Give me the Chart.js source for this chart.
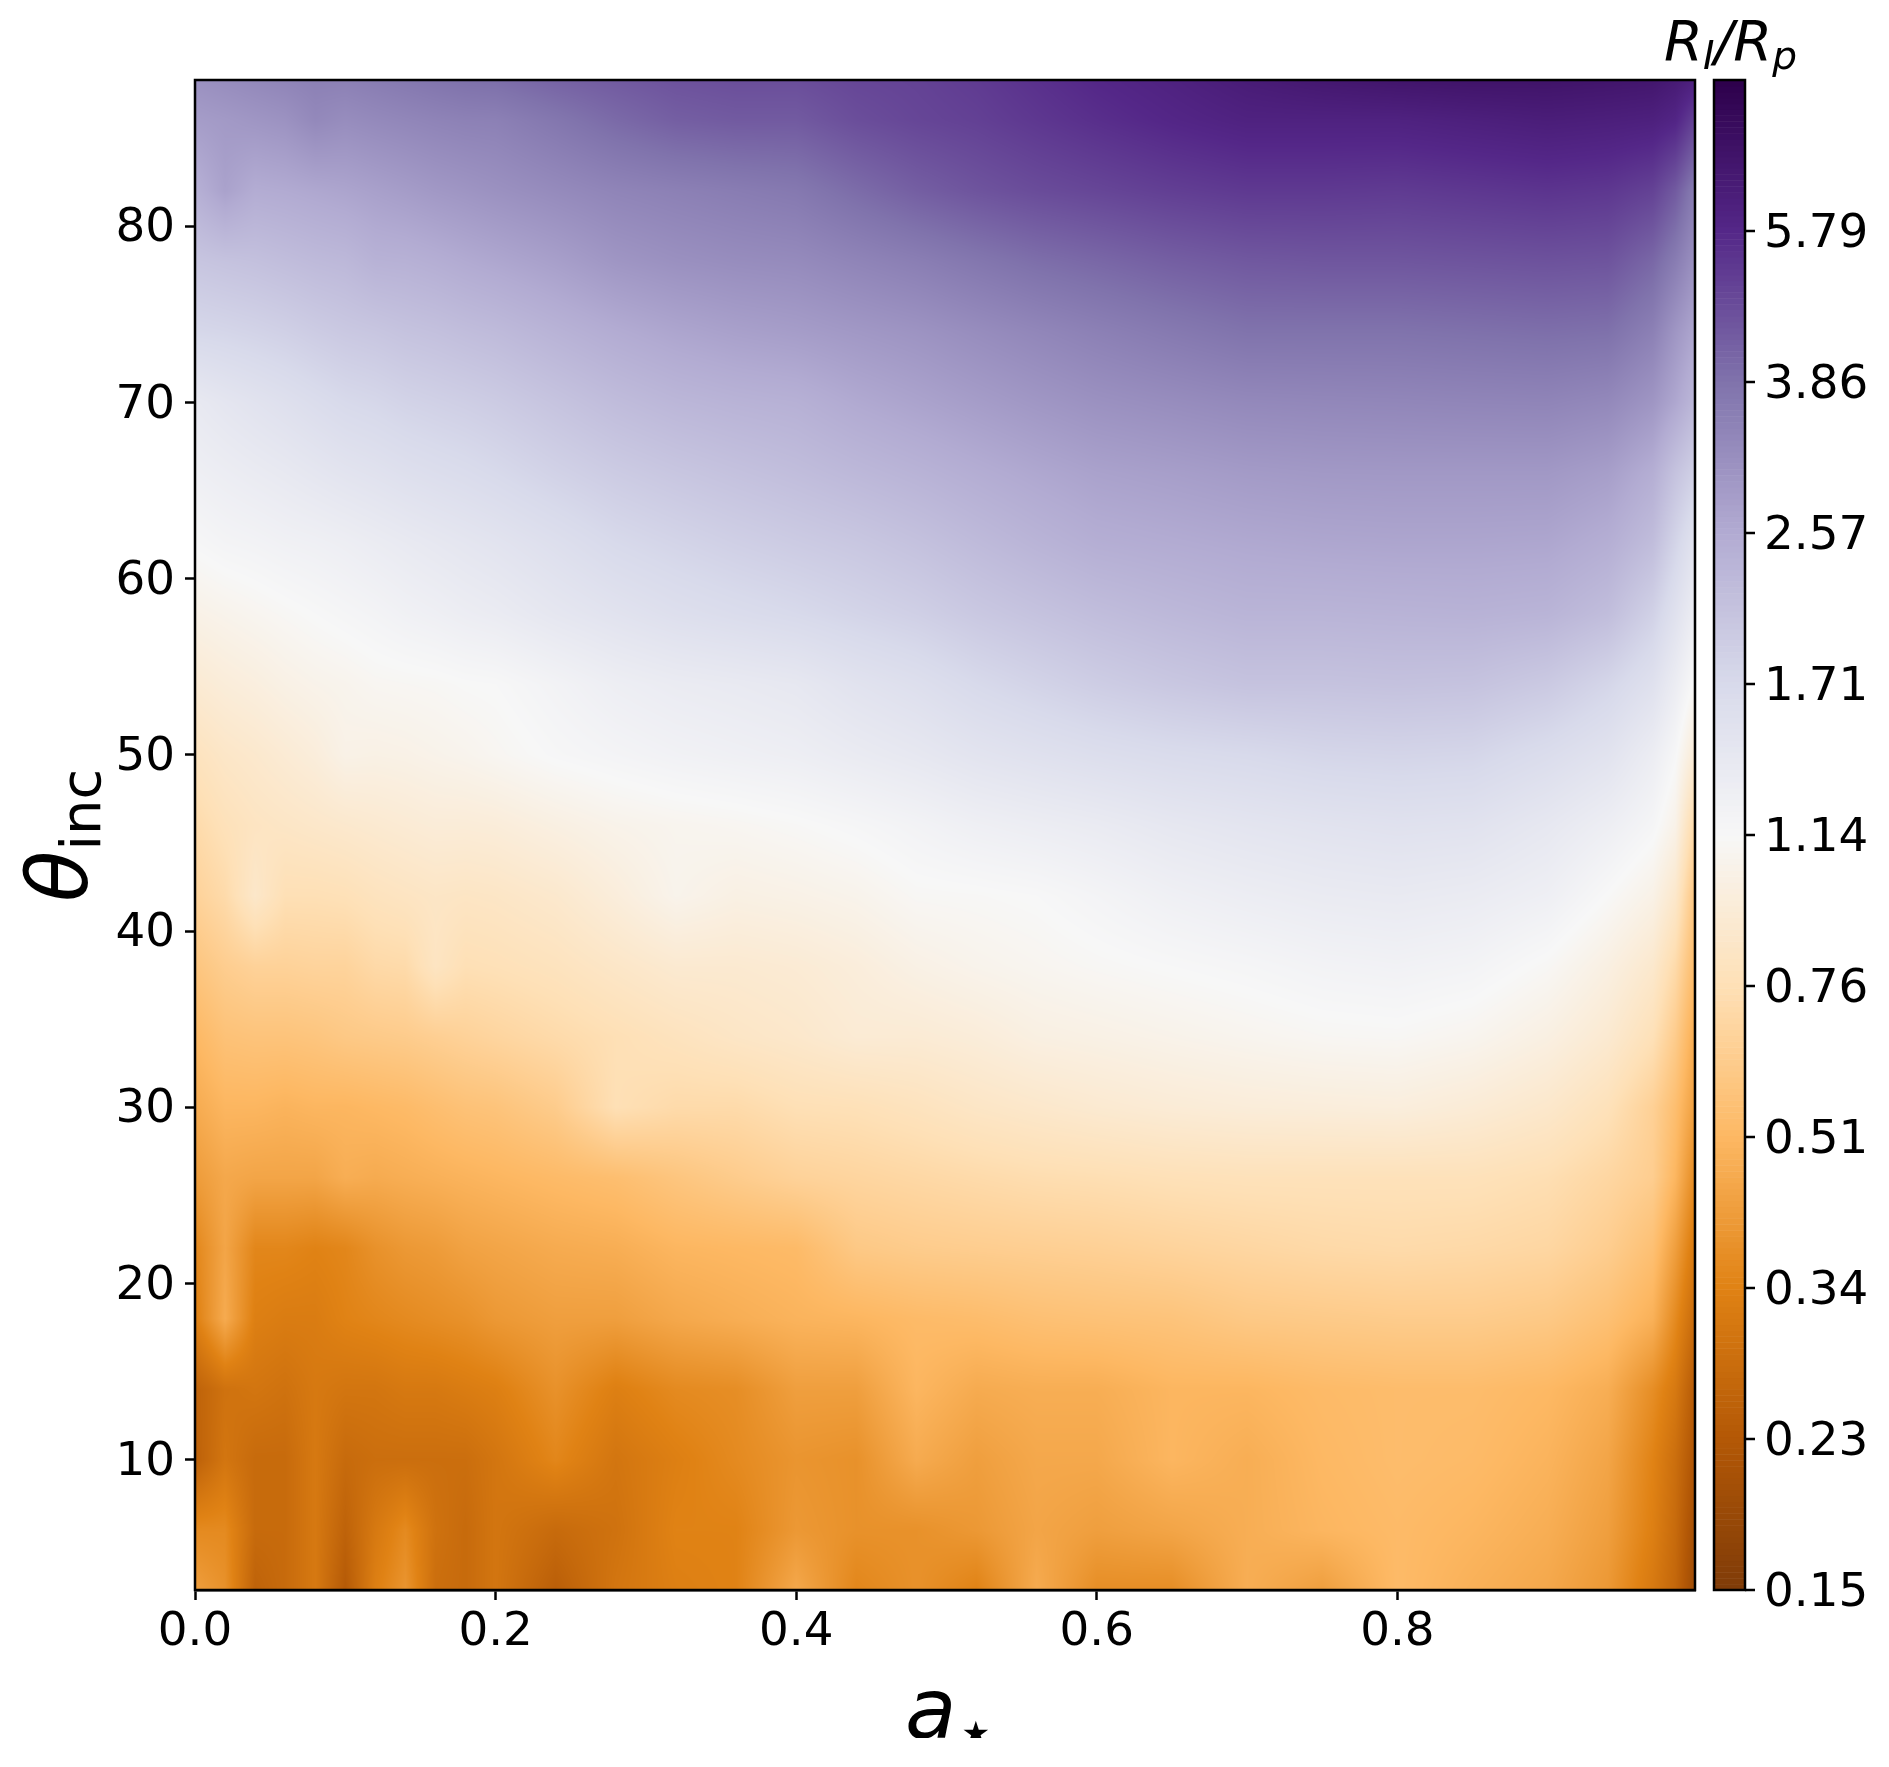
<!DOCTYPE html>
<html lang="en">
  <head>
    <meta charset="utf-8" />
    <title>R_I/R_p map</title>
    <script src="https://cdn.jsdelivr.net/npm/chart.js"></script>
    <style>
      html, body { margin: 0; background: #fff; }
      canvas { display: block; }
    </style>
  </head>
  <body>
    <canvas id="ratioMap" width="1889" height="1738"></canvas>
    <script>
      // values
      const aValues = [0, .02, .04, .06, .08, .10, .12, .14, .16, .18, .20, .24, .28, .32, .36, .40, .44, .48, .52, .56, .60, .65, .70, .75, .80, .85, .90, .94, .97, .985, .998];
      const thetaValues = [2.6, 6, 10, 14, 18, 22, 26, 30, 34, 38, 42, 46, 50, 54, 58, 62, 66, 70, 74, 78, 82, 86, 88.3];
      const xTicks = [0, .2, .4, .6, .8];
      const yTicks = [10, 20, 30, 40, 50, 60, 70, 80];
      const barTicks = [.1505, .2258, .3386, .508, .762, 1.143, 1.714, 2.572, 3.857, 5.786];
      const barLabels = ['0.15', '0.23', '0.34', '0.51', '0.76', '1.14', '1.71', '2.57', '3.86', '5.79'];
      const barMax = 8.68;
      const puOr = ['#7f3b08', '#b35806', '#e08214', '#fdb863', '#fee0b6', '#f7f7f7', '#d8daeb', '#b2abd2', '#8073ac', '#542788', '#2d004b'];

      // one row per theta, one column per a
      const ratioGrid = [
        [.42,.38,.25,.27,.31,.23,.33,.39,.28,.27,.30,.24,.30,.33,.34,.45,.35,.38,.34,.46,.37,.37,.47,.42,.52,.48,.45,.40,.31,.26,.19],
        [.36,.36,.27,.27,.31,.25,.31,.36,.29,.27,.30,.27,.29,.34,.34,.40,.38,.38,.40,.44,.42,.44,.47,.50,.52,.50,.47,.42,.33,.27,.20],
        [.245,.30,.27,.27,.31,.27,.28,.28,.28,.28,.30,.35,.30,.33,.36,.39,.38,.46,.42,.45,.45,.50,.47,.51,.53,.52,.49,.44,.34,.28,.215],
        [.25,.29,.30,.29,.31,.30,.30,.31,.31,.32,.33,.38,.33,.36,.37,.42,.42,.50,.46,.47,.47,.50,.50,.52,.53,.53,.51,.47,.37,.31,.23],
        [.33,.46,.33,.32,.32,.34,.35,.36,.37,.38,.40,.42,.42,.45,.47,.49,.50,.52,.53,.55,.56,.57,.60,.61,.62,.62,.60,.55,.48,.36,.27],
        [.35,.44,.35,.35,.34,.35,.38,.40,.41,.43,.44,.46,.47,.50,.51,.52,.60,.62,.63,.64,.65,.67,.69,.71,.72,.71,.69,.63,.55,.42,.31],
        [.41,.45,.44,.44,.44,.47,.46,.47,.48,.49,.50,.52,.54,.58,.62,.66,.68,.70,.72,.74,.75,.77,.78,.78,.78,.78,.75,.69,.63,.50,.36],
        [.46,.50,.50,.49,.50,.50,.51,.52,.54,.56,.57,.62,.76,.72,.72,.76,.77,.80,.84,.87,.90,.93,.95,.96,.97,.93,.87,.78,.65,.54,.42],
        [.51,.56,.57,.57,.58,.60,.61,.62,.64,.66,.68,.72,.76,.80,.84,.87,.92,.92,.95,1.00,1.02,1.05,1.08,1.11,1.12,1.08,1.00,.90,.77,.62,.46],
        [.58,.63,.66,.66,.67,.67,.71,.72,.82,.76,.77,.80,.85,.90,.90,.92,.96,1.02,1.06,1.09,1.12,1.15,1.18,1.22,1.24,1.21,1.12,1.00,.88,.72,.52],
        [.66,.72,.86,.76,.76,.77,.80,.82,.84,.83,.84,.88,.96,1.06,1.01,1.03,1.06,1.12,1.13,1.15,1.20,1.27,1.32,1.36,1.38,1.35,1.28,1.14,1.03,.87,.58],
        [.72,.78,.82,.84,.86,.88,.90,.92,.94,.94,.95,1.00,1.05,1.08,1.10,1.13,1.17,1.22,1.28,1.32,1.36,1.43,1.48,1.52,1.55,1.53,1.42,1.30,1.18,1.04,.70],
        [.80,.85,.88,.92,.96,1.03,1.02,1.03,1.05,1.07,1.10,1.16,1.20,1.24,1.27,1.30,1.36,1.42,1.50,1.56,1.62,1.68,1.72,1.78,1.80,1.78,1.65,1.52,1.32,1.16,.92],
        [.91,.95,.98,1.02,1.05,1.07,1.10,1.11,1.12,1.14,1.15,1.22,1.30,1.35,1.38,1.42,1.52,1.60,1.72,1.82,1.92,2.02,2.10,2.10,2.12,2.10,1.98,1.78,1.56,1.33,1.12],
        [1.03,1.06,1.09,1.12,1.15,1.18,1.21,1.25,1.28,1.32,1.35,1.44,1.52,1.60,1.66,1.72,1.80,1.88,2.00,2.10,2.20,2.30,2.38,2.38,2.40,2.42,2.38,2.20,1.85,1.55,1.30],
        [1.16,1.20,1.22,1.25,1.27,1.30,1.34,1.38,1.42,1.46,1.50,1.60,1.72,1.80,1.88,1.95,2.02,2.12,2.25,2.38,2.50,2.56,2.62,2.66,2.68,2.68,2.66,2.50,2.20,1.80,1.50],
        [1.28,1.32,1.36,1.40,1.45,1.50,1.54,1.59,1.63,1.67,1.72,1.84,1.95,2.04,2.12,2.20,2.30,2.40,2.52,2.64,2.75,2.82,2.90,2.94,2.95,2.95,2.95,2.82,2.50,2.10,1.85],
        [1.39,1.46,1.52,1.58,1.65,1.72,1.76,1.82,1.86,1.90,1.95,2.08,2.22,2.33,2.40,2.45,2.60,2.72,2.85,2.98,3.10,3.20,3.30,3.33,3.35,3.38,3.40,3.30,3.00,2.65,2.30],
        [1.75,1.78,1.82,1.87,1.94,2.00,2.04,2.10,2.14,2.20,2.25,2.40,2.55,2.68,2.78,2.85,2.95,3.05,3.20,3.35,3.50,3.68,3.85,3.85,3.85,3.90,3.95,3.90,3.50,3.00,2.65],
        [2.05,2.10,2.14,2.20,2.26,2.30,2.42,2.44,2.50,2.58,2.65,2.80,3.00,3.12,3.20,3.25,3.40,3.55,3.75,3.95,4.10,4.30,4.45,4.50,4.50,4.55,4.60,4.55,4.10,3.60,3.10],
        [2.45,2.75,2.54,2.58,2.64,2.70,2.78,2.86,2.95,3.02,3.10,3.25,3.40,3.50,3.60,3.70,4.00,4.30,4.55,4.75,4.90,5.10,5.25,5.25,5.20,5.30,5.40,5.30,5.00,4.40,3.60],
        [2.85,2.92,3.00,3.08,3.30,3.20,3.28,3.35,3.42,3.48,3.50,3.75,4.05,4.30,4.40,4.40,4.70,4.90,5.05,5.30,5.55,5.85,6.10,6.10,6.10,6.25,6.40,6.30,6.20,5.90,5.00],
        [3.10,3.20,3.30,3.40,3.50,3.50,3.60,3.70,3.80,3.90,3.95,4.20,4.40,4.60,4.70,4.70,4.90,5.00,5.20,5.50,5.80,6.10,6.50,6.80,7.00,7.10,7.10,7.00,6.90,6.60,6.20]
      ];

      const INK = '#000';
      const TICK_FONT = { family: '"DejaVu Sans"', size: 46.8 };
      const BAR_LEFT = 1714;
      const BAR_RIGHT = 1745;

      const stopRgb = puOr.map((hex) => [1, 3, 5].map((i) => parseInt(hex.slice(i, i + 2), 16)));
      const logMin = Math.log(barTicks[0]);
      const logSpan = Math.log(barMax) - logMin;

      function normOf(value) {
        return (Math.log(value) - logMin) / logSpan;
      }

      function rgbOf(t) {
        const pos = Math.min(Math.max(t, 0), 1) * (stopRgb.length - 1);
        const i = Math.min(Math.floor(pos), stopRgb.length - 2);
        const f = pos - i;
        return stopRgb[i].map((c, k) => c + (stopRgb[i + 1][k] - c) * f);
      }

      // cell index and weight for a value on a sorted axis
      function locate(axis, v) {
        let i = 0;
        while (i < axis.length - 2 && v > axis[i + 1]) i++;
        const f = Math.min(Math.max((v - axis[i]) / (axis[i + 1] - axis[i]), 0), 1);
        return [i, f];
      }

      function drawRuns(ctx, x, y, angle, runs) {
        ctx.save();
        ctx.translate(x, y);
        ctx.rotate(angle);
        let pen = 0;
        runs.forEach(([font, text, drop, gap]) => {
          ctx.font = font;
          pen += gap || 0;
          ctx.fillText(text, pen, drop);
          pen += ctx.measureText(text).width;
        });
        ctx.restore();
      }

      const heatmapPlugin = {
        id: 'heatmap',
        beforeDatasetsDraw(chart) {
          const { ctx, chartArea: area, scales } = chart;
          const w = Math.round(area.right - area.left);
          const h = Math.round(area.bottom - area.top);
          const off = document.createElement('canvas');
          off.width = w;
          off.height = h;
          const octx = off.getContext('2d');
          const img = octx.createImageData(w, h);
          const norm = ratioGrid.map((row) => row.map(normOf));
          const cols = [];
          for (let px = 0; px < w; px++) {
            cols.push(locate(aValues, scales.x.getValueForPixel(area.left + px + 0.5)));
          }
          for (let py = 0; py < h; py++) {
            const [r, fy] = locate(thetaValues, scales.y.getValueForPixel(area.top + py + 0.5));
            for (let px = 0; px < w; px++) {
              const [c, fx] = cols[px];
              const low = norm[r][c] * (1 - fx) + norm[r][c + 1] * fx;
              const high = norm[r + 1][c] * (1 - fx) + norm[r + 1][c + 1] * fx;
              const rgb = rgbOf(low * (1 - fy) + high * fy);
              const o = (py * w + px) * 4;
              img.data[o] = rgb[0];
              img.data[o + 1] = rgb[1];
              img.data[o + 2] = rgb[2];
              img.data[o + 3] = 255;
            }
          }
          octx.putImageData(img, 0, 0);
          ctx.drawImage(off, area.left, area.top);
        },
        afterDraw(chart) {
          const { ctx, chartArea: area, scales } = chart;
          ctx.save();
          // colour bar, 256 steps like the original
          const bar = scales.cbar;
          for (let k = 0; k < 256; k++) {
            const yLow = bar.getPixelForValue(Math.exp(logMin + logSpan * k / 256));
            const yHigh = bar.getPixelForValue(Math.exp(logMin + logSpan * (k + 1) / 256));
            const rgb = rgbOf((k + 0.5) / 256);
            ctx.fillStyle = `rgb(${rgb.map(Math.round).join(',')})`;
            ctx.fillRect(BAR_LEFT, yHigh, BAR_RIGHT - BAR_LEFT, yLow - yHigh + 0.5);
          }
          ctx.strokeStyle = INK;
          ctx.lineWidth = 2.5;
          ctx.strokeRect(area.left, area.top, area.right - area.left, area.bottom - area.top);
          ctx.strokeRect(BAR_LEFT, area.top, BAR_RIGHT - BAR_LEFT, area.bottom - area.top);
          ctx.beginPath();
          barTicks.forEach((v) => {
            const y = bar.getPixelForValue(v);
            ctx.moveTo(BAR_RIGHT, y);
            ctx.lineTo(BAR_RIGHT + 10, y);
          });
          ctx.stroke();

          // labels with subscripts
          ctx.fillStyle = INK;
          ctx.textBaseline = 'alphabetic';
          drawRuns(ctx, 1664, 60, 0, [
            ['italic 56px "DejaVu Sans"', 'R', 0],
            ['italic 39px "DejaVu Sans"', 'I', 9],
            ['italic 56px "DejaVu Sans"', '/', 0],
            ['italic 56px "DejaVu Sans"', 'R', 0],
            ['italic 39px "DejaVu Sans"', 'p', 9]
          ]);
          drawRuns(ctx, 905, 1738, 0, [
            ['italic 84px "DejaVu Sans"', 'a', 0],
            ['32px "DejaVu Sans"', '★', 6, 5]
          ]);
          drawRuns(ctx, 87, 902, -Math.PI / 2, [
            ['italic 84px "DejaVu Sans"', 'θ', 0],
            ['56px "DejaVu Sans"', 'inc', 13]
          ]);
          ctx.restore();
        }
      };

      const nodes = [];
      thetaValues.forEach((theta, r) => {
        aValues.forEach((a, c) => nodes.push({ x: a, y: theta, v: ratioGrid[r][c] }));
      });

      function axisGrid() {
        return { drawOnChartArea: false, drawTicks: true, tickLength: 10, tickWidth: 2.5, tickColor: INK };
      }

      function noPadding(s) {
        s.paddingTop = s.paddingBottom = s.paddingLeft = s.paddingRight = 0;
      }

      new Chart(document.getElementById('ratioMap'), {
        type: 'scatter',
        data: { datasets: [{ data: nodes, pointRadius: 0, showLine: false }] },
        options: {
          responsive: false,
          animation: false,
          events: [],
          layout: { padding: { left: 0, right: 0, top: 80, bottom: 0 } },
          plugins: { legend: { display: false }, tooltip: { enabled: false } },
          scales: {
            x: {
              type: 'linear', min: 0, max: .998,
              grid: axisGrid(),
              border: { color: INK, width: 2.5 },
              ticks: { color: INK, font: TICK_FONT, padding: 5, maxRotation: 0, autoSkip: false, callback: (v) => v.toFixed(1) },
              afterBuildTicks: (s) => { s.ticks = xTicks.map((value) => ({ value })); },
              afterFit: (s) => { s.height = 148; noPadding(s); }
            },
            y: {
              type: 'linear', min: 2.6, max: 88.3,
              grid: axisGrid(),
              border: { color: INK, width: 2.5 },
              ticks: { color: INK, font: TICK_FONT, padding: 10, labelOffset: 3, autoSkip: false },
              afterBuildTicks: (s) => { s.ticks = yTicks.map((value) => ({ value })); },
              afterFit: (s) => { s.width = 195; noPadding(s); }
            },
            cbar: {
              type: 'logarithmic', axis: 'y', position: 'right', min: barTicks[0], max: barMax,
              grid: { display: false, drawTicks: false },
              border: { display: false },
              ticks: { color: INK, font: TICK_FONT, padding: 69, labelOffset: 4, autoSkip: false, callback: (v, i) => barLabels[i] },
              afterBuildTicks: (s) => { s.ticks = barTicks.map((value) => ({ value })); },
              afterFit: (s) => { s.width = 194; noPadding(s); }
            }
          }
        },
        plugins: [heatmapPlugin]
      });
    </script>
  </body>
</html>
